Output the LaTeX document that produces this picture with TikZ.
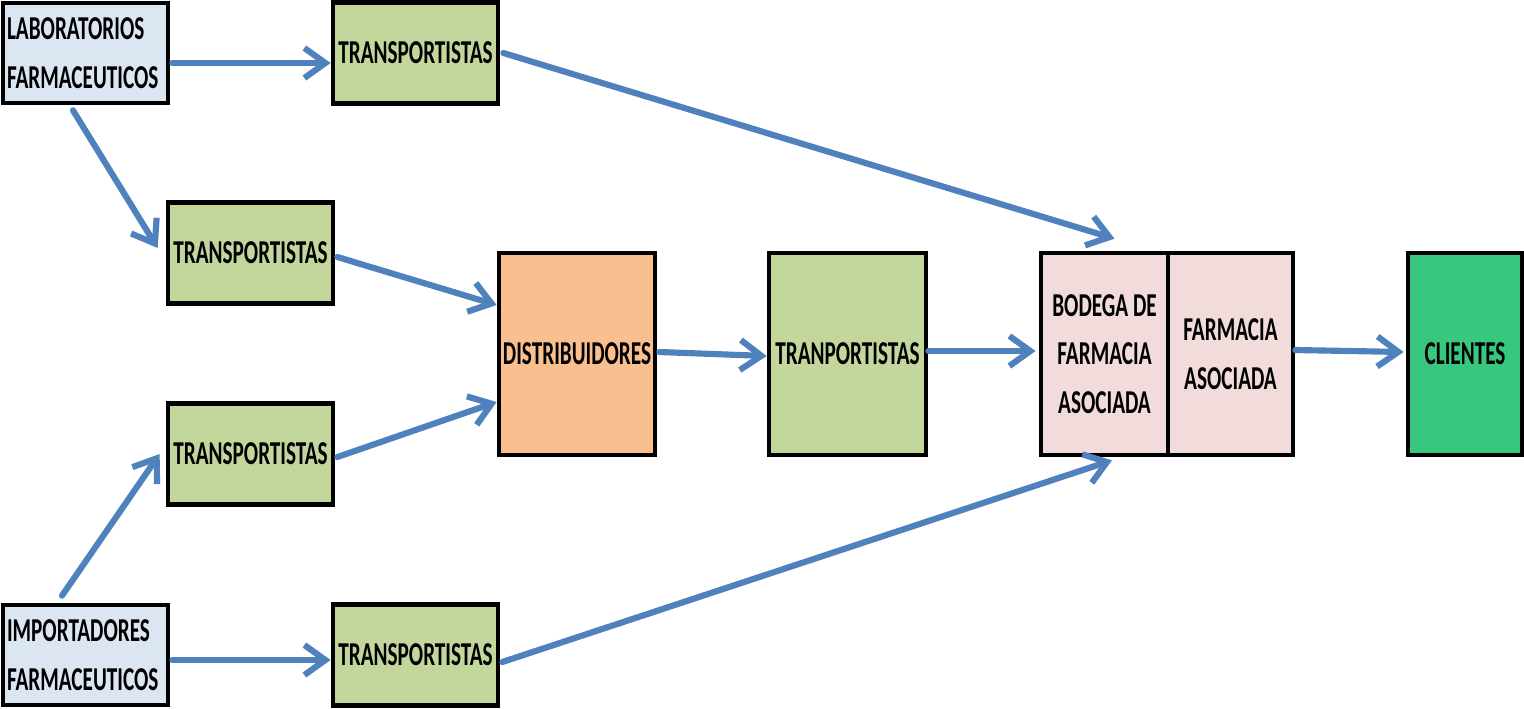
\documentclass[tikz,border=0pt]{standalone}
\usepackage{fontspec}
\setmainfont{Carlito}[FakeStretch=0.635]
\usetikzlibrary{arrows.meta}

\definecolor{labblue}{HTML}{DCE6F2}
\definecolor{trgreen}{HTML}{C3D69B}
\definecolor{distorange}{HTML}{F9BF8F}
\definecolor{farmpink}{HTML}{F2DCDB}
\definecolor{cligreen}{HTML}{37C77F}
\definecolor{arrblue}{HTML}{4F81BD}

\begin{document}
\begin{tikzpicture}[x=0.02cm, y=-0.02cm,
	box/.style={draw=black, line width=2.7pt, inner sep=0pt, align=center,
		font=\bfseries\fontsize{19}{27.8}\selectfont},
	origin/.style={box, fill=labblue, minimum width=3.3cm, minimum height=2cm,
		text width=3.14cm, align=left},
	carrier/.style={box, fill=trgreen, minimum width=3.3cm, minimum height=2.02cm},
	tall/.style={box, minimum height=4.04cm},
	flow/.style={draw=arrblue, line width=3.5pt, line cap=round, line join=round,
		-{Straight Barb[length=0.42cm, width=0.6cm]}}]

	\useasboundingbox (0,0) rectangle (1524,708);

	% sources
	\node[origin] (lab) at (85.5,53) {LABORATORIOS\\FARMACEUTICOS};
	\node[origin] (imp) at (85.5,655) {IMPORTADORES\\FARMACEUTICOS};

	% transport
	\node[carrier] (t1) at (415.5,53) {TRANSPORTISTAS};
	\node[carrier] (t2) at (250.5,253) {TRANSPORTISTAS};
	\node[carrier] (t4) at (250.5,454) {TRANSPORTISTAS};
	\node[carrier] (t5) at (415.5,655) {TRANSPORTISTAS};

	% middle chain
	\node[tall, fill=distorange, minimum width=3.12cm] (dist) at (577,354) {DISTRIBUIDORES};
	\node[tall, fill=trgreen, minimum width=3.14cm] (t3) at (847.5,354) {TRANPORTISTAS};
	\node[tall, fill=farmpink, minimum width=2.54cm] (bod) at (1104.5,354) {BODEGA DE\\FARMACIA\\ASOCIADA};
	\node[tall, fill=farmpink, minimum width=2.5cm] (farm) at (1230.5,354) {FARMACIA\\ASOCIADA};
	\node[tall, fill=cligreen, minimum width=2.28cm] (cli) at (1465,354) {CLIENTES};

	% arrows
	\draw[flow] ([xshift=0.04cm, yshift=-0.2cm]lab.east) -- ([yshift=-0.2cm]t1.west);
	\draw[flow] ([xshift=0.06cm]t1.east) -- ([xshift=0.2cm, yshift=0.24cm]bod.north);
	\draw[flow] ([xshift=-0.25cm, yshift=-0.1cm]lab.south) -- ([xshift=-0.16cm, yshift=0.1cm]t2.west);
	\draw[flow] ([xshift=0.04cm, yshift=-0.08cm]t2.east) -- ([yshift=0.98cm]dist.west);
	\draw[flow] ([xshift=0.04cm, yshift=-0.06cm]t4.east) -- ([yshift=-0.96cm]dist.west);
	\draw[flow] ([xshift=-0.47cm, yshift=0.14cm]imp.north) -- ([xshift=-0.12cm]t4.west);
	\draw[flow] ([xshift=0.04cm, yshift=-0.1cm]imp.east) -- ([yshift=-0.1cm]t5.west);
	\draw[flow] ([xshift=0.04cm, yshift=-0.14cm]t5.east) -- ([xshift=0.15cm, yshift=-0.06cm]bod.south);
	\draw[flow] ([xshift=0.04cm, yshift=0.04cm]dist.east) -- ([yshift=-0.04cm]t3.west);
	\draw[flow] ([yshift=0.06cm]t3.east) -- ([xshift=-0.06cm, yshift=0.06cm]bod.west);
	\draw[flow] ([yshift=0.08cm]farm.east) -- ([xshift=-0.04cm, yshift=0.04cm]cli.west);

\end{tikzpicture}
\end{document}
